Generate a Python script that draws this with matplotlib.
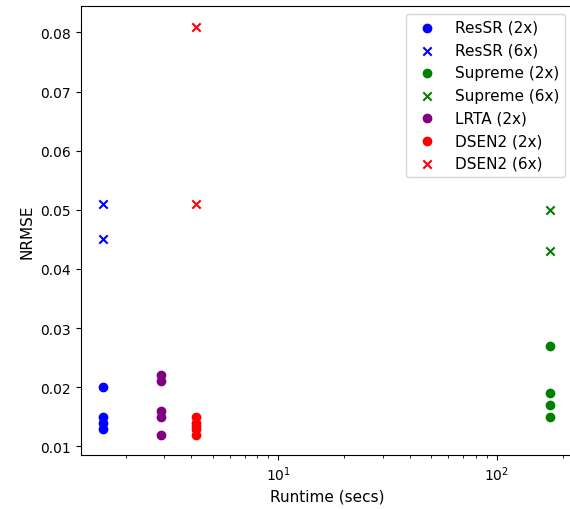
import matplotlib
matplotlib.use('Agg')
import matplotlib.pyplot as plt

# runtime (secs) per method
ressr_time = 1.58
supreme_time = 176
lrta_time = 2.9
dsen2_time = 4.2

ressr_2x = [0.020, 0.015, 0.014, 0.013]
ressr_6x = [0.051, 0.045]
supreme_2x = [0.027, 0.019, 0.017, 0.015]
supreme_6x = [0.050, 0.043]
lrta_2x = [0.022, 0.021, 0.016, 0.015, 0.012]
dsen2_2x = [0.015, 0.014, 0.0135, 0.013, 0.012]
dsen2_6x = [0.081, 0.051]

fig, ax = plt.subplots(figsize=(5.7, 5.1), dpi=100)
# right spine sits just outside the picture in the original crop
fig.subplots_adjust(left=0.142, right=1.005, bottom=0.106, top=0.986)

ax.scatter([ressr_time] * len(ressr_2x), ressr_2x, color='blue', marker='o', label='ResSR (2x)')
ax.scatter([ressr_time] * len(ressr_6x), ressr_6x, color='blue', marker='x', label='ResSR (6x)')
ax.scatter([supreme_time] * len(supreme_2x), supreme_2x, color='green', marker='o', label='Supreme (2x)')
ax.scatter([supreme_time] * len(supreme_6x), supreme_6x, color='green', marker='x', label='Supreme (6x)')
ax.scatter([lrta_time] * len(lrta_2x), lrta_2x, color='purple', marker='o', label='LRTA (2x)')
ax.scatter([dsen2_time] * len(dsen2_2x), dsen2_2x, color='red', marker='o', label='DSEN2 (2x)')
ax.scatter([dsen2_time] * len(dsen2_6x), dsen2_6x, color='red', marker='x', label='DSEN2 (6x)')

ax.set_xscale('log')
ax.set_xlabel('Runtime (secs)', fontsize=11)
ax.set_ylabel('NRMSE', fontsize=11)
ax.legend(fontsize=11)

fig.savefig('out.png')
